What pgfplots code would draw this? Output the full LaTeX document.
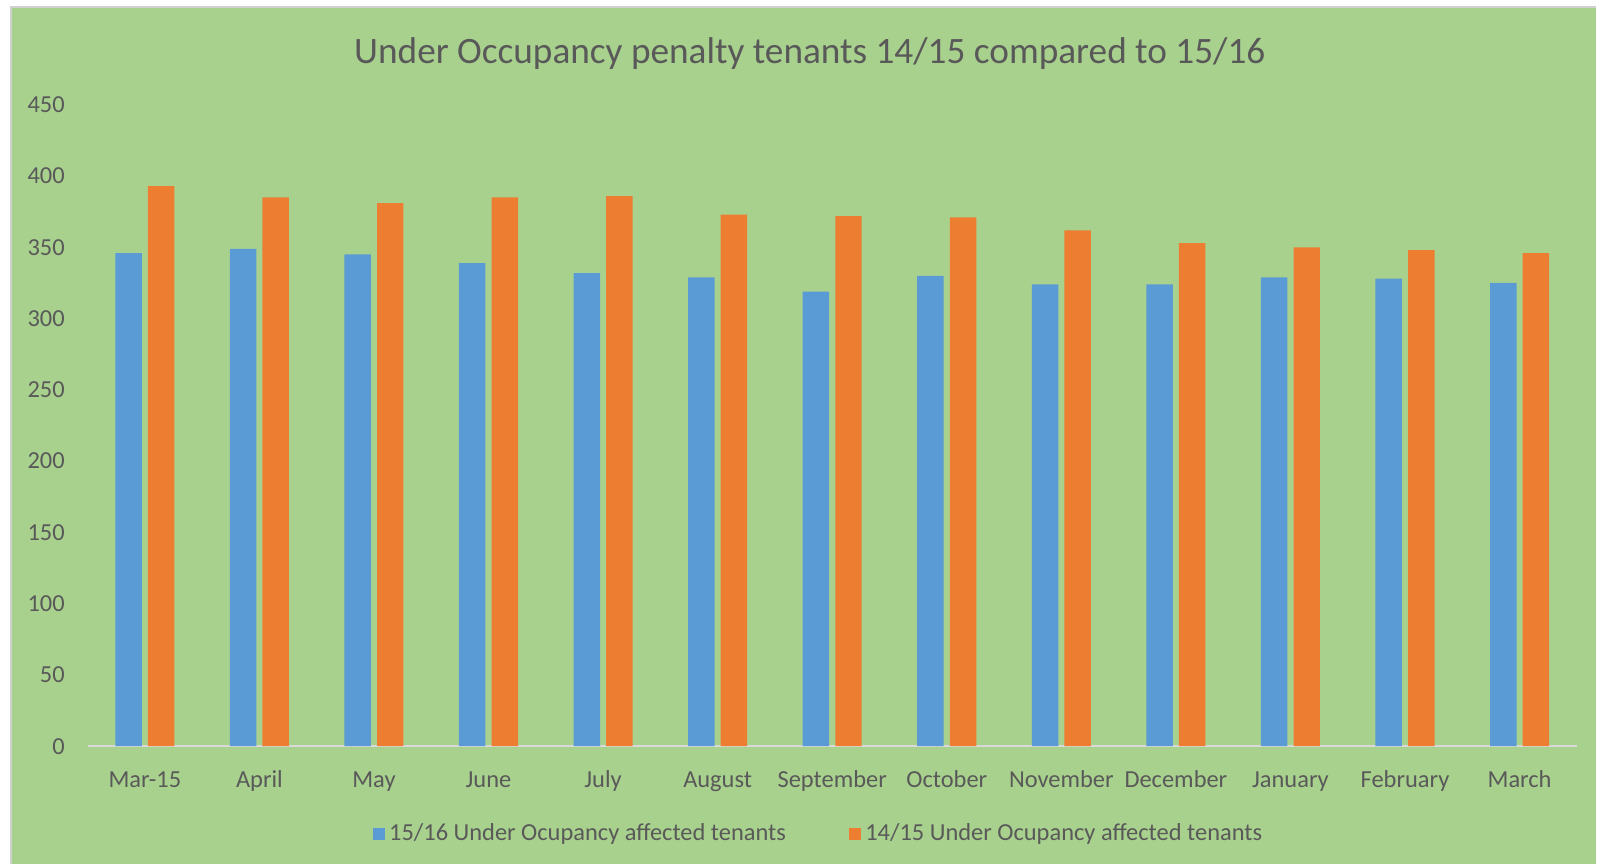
\documentclass[border=0pt]{standalone}
\usepackage{pgfplots}
\pgfplotsset{compat=1.18}
\usepackage{fontspec}
\setmainfont{Carlito}
\definecolor{bg}{HTML}{A9D18E}
\definecolor{cblue}{HTML}{5B9BD5}
\definecolor{corange}{HTML}{ED7D31}
\definecolor{txt}{HTML}{595959}
\definecolor{axl}{HTML}{D9D9D9}
\definecolor{brd}{HTML}{D0D0D0}
\pgfplotstableread{
x blue orange
0 346 393
1 349 385
2 345 381
3 339 385
4 332 386
5 329 373
6 319 372
7 330 371
8 324 362
9 324 353
10 329 350
11 328 348
12 325 346
}\datatable
\begin{document}
\begin{tikzpicture}
\fill[white] (0,0) rectangle (784pt,424.5pt);
\fill[bg] (5.5pt,0) rectangle (784pt,421pt);
\draw[brd, line width=0.8pt] (5.5pt,0) -- (5.5pt,421pt) -- (784pt,421pt);
\begin{axis}[
  at={(43pt,58pt)}, anchor=south west,
  scale only axis, width=731.5pt, height=315pt,
  ybar=3pt, bar width=13pt,
  xmin=-0.5, xmax=12.5, ymin=0, ymax=450,
  ytick={0,50,...,450},
  xtick=data,
  xticklabels={Mar-15,April,May,June,July,August,September,October,November,December,January,February,March},
  axis x line*=bottom, axis y line*=left,
  x axis line style={axl, line width=1pt, -},
  y axis line style={draw=none},
  major tick length=0pt,
  tick label style={font=\fontsize{12}{14}\selectfont, text=txt},
  /pgf/number format/assume math mode=true,
  xticklabel style={anchor=base, yshift=-20.5pt, inner sep=0pt},
  yticklabel style={anchor=east, inner sep=0pt, xshift=-11pt},
  legend style={at={(0.4915,-0.1365)}, anchor=center, draw=none, fill=none,
    font=\fontsize{12}{14}\selectfont, text=txt, legend columns=2,
    /tikz/every even column/.append style={column sep=29pt}},
  legend image code/.code={\fill[#1] (0pt,-3pt) rectangle (6pt,3pt);},
  legend cell align=left,
]
\addplot[fill=cblue, draw=none] table[x=x, y=blue] {\datatable};
\addplot[fill=corange, draw=none] table[x=x, y=orange] {\datatable};
\legend{15/16 Under Ocupancy affected tenants, 14/15 Under Ocupancy affected tenants}
\end{axis}
\node[anchor=base, text=txt, font=\fontsize{18.3}{22}\selectfont, inner sep=0pt] at (397.75pt,393.5pt) {Under Occupancy penalty tenants 14/15 compared to 15/16};
\end{tikzpicture}
\end{document}
